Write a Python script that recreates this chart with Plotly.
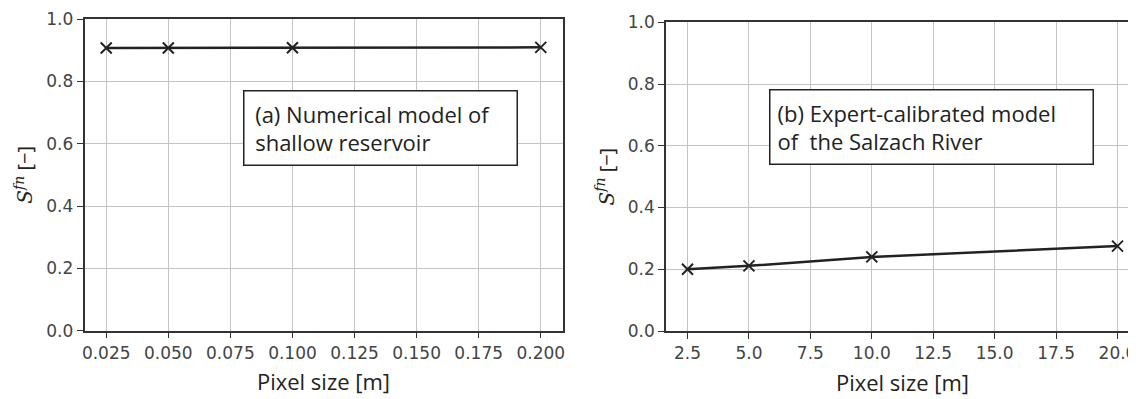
import plotly.graph_objects as go

W, H = 1136, 399
OFF = 8  # page body margin of the browser

# Data
x_a = [0.025, 0.05, 0.1, 0.2]
y_a = [0.907, 0.907, 0.908, 0.909]
x_b = [2.5, 5.0, 10.0, 20.0]
y_b = [0.200, 0.211, 0.240, 0.275]

xticks_a = [0.025, 0.050, 0.075, 0.100, 0.125, 0.150, 0.175, 0.200]
xticklabels_a = ["0.025", "0.050", "0.075", "0.100", "0.125", "0.150", "0.175", "0.200"]
xticks_b = [2.5, 5.0, 7.5, 10.0, 12.5, 15.0, 17.5, 20.0]
xticklabels_b = ["2.5", "5.0", "7.5", "10.0", "12.5", "15.0", "17.5", "20.0"]
yticks = [0.0, 0.2, 0.4, 0.6, 0.8, 1.0]
yticklabels = ["0.0", "0.2", "0.4", "0.6", "0.8", "1.0"]

label_a = "\u2009(a) Numerical model of<br>\u2009shallow reservoir"
label_b = "(b) Expert-calibrated model<br>of  the Salzach River"
xtitle = "Pixel size [m]"
ytitle = ('<span style="font-family:DejaVu Serif"><i>S</i><sup><i>fn</i></sup></span> [−]')

line_col = "#222222"
spine_col = "#333333"
grid_col = "#c4c4c4"
tick_col = "#444444"
label_font = "Open Sans"
tick_font = dict(family="DejaVu Sans", size=17, color=tick_col)

fig = go.Figure()
fig.add_trace(go.Scatter(x=x_a, y=y_a, mode="lines+markers", xaxis="x", yaxis="y",
                         line=dict(color=line_col, width=2.5),
                         marker=dict(symbol="x-thin", size=11, line=dict(color=line_col, width=2)),
                         showlegend=False))
fig.add_trace(go.Scatter(x=x_b, y=y_b, mode="lines+markers", xaxis="x2", yaxis="y2",
                         line=dict(color=line_col, width=2.5),
                         marker=dict(symbol="x-thin", size=11, line=dict(color=line_col, width=2)),
                         showlegend=False))

common_axis = dict(showline=True, linecolor=spine_col, linewidth=1.5, mirror=True,
                   ticks="outside", ticklen=6, tickcolor=spine_col, tickwidth=1.2,
                   showgrid=True, gridcolor=grid_col, gridwidth=1.3, zeroline=False,
                   tickfont=tick_font, automargin=False)

a_left, a_right = 84.5 - OFF, 562.5 - OFF
b_left, b_right = 666 - OFF, 1139 - OFF
ya_top, ya_bot = 19 - OFF, 330.7 - OFF
yb_top, yb_bot = 22.3 - OFF, 331 - OFF

fig.update_layout(
    width=W, height=H,
    margin=dict(l=0, r=0, t=0, b=0, autoexpand=False),
    paper_bgcolor="white", plot_bgcolor="white",
    xaxis=dict(domain=[a_left / W, a_right / W], anchor="y",
               range=[0.01625, 0.20875], tickvals=xticks_a, ticktext=xticklabels_a,
               title=dict(text=xtitle, font=dict(family=label_font, size=22, color="#222"), standoff=13),
               **common_axis),
    yaxis=dict(domain=[1 - ya_bot / H, 1 - ya_top / H], anchor="x",
               range=[0, 1], tickvals=yticks, ticktext=yticklabels,
               title=dict(text=ytitle, font=dict(family=label_font, size=20, color="#222"), standoff=8),
               **common_axis),
    xaxis2=dict(domain=[b_left / W, b_right / W], anchor="y2",
                range=[1.625, 20.875], tickvals=xticks_b, ticktext=xticklabels_b,
                title=dict(text=xtitle, font=dict(family=label_font, size=22, color="#222"), standoff=13),
                **common_axis),
    yaxis2=dict(domain=[1 - yb_bot / H, 1 - yb_top / H], anchor="x2",
                range=[0, 1], tickvals=yticks, ticktext=yticklabels,
                title=dict(text=ytitle, font=dict(family=label_font, size=20, color="#222"), standoff=8),
                **common_axis),
    annotations=[
        dict(text=label_a, xref="paper", yref="paper", x=(243 - OFF) / W, y=1 - (90 - OFF) / H,
             xanchor="left", yanchor="top", align="left", showarrow=False, width=258,
             font=dict(family=label_font, size=22, color="#222"),
             bgcolor="white", bordercolor="#222", borderwidth=1.5, borderpad=7),
        dict(text=label_b, xref="paper", yref="paper", x=(769 - OFF) / W, y=1 - (89 - OFF) / H,
             xanchor="left", yanchor="top", align="left", showarrow=False, width=308,
             font=dict(family=label_font, size=22, color="#222"),
             bgcolor="white", bordercolor="#222", borderwidth=1.5, borderpad=7),
    ],
)

fig.write_html("out.html")
